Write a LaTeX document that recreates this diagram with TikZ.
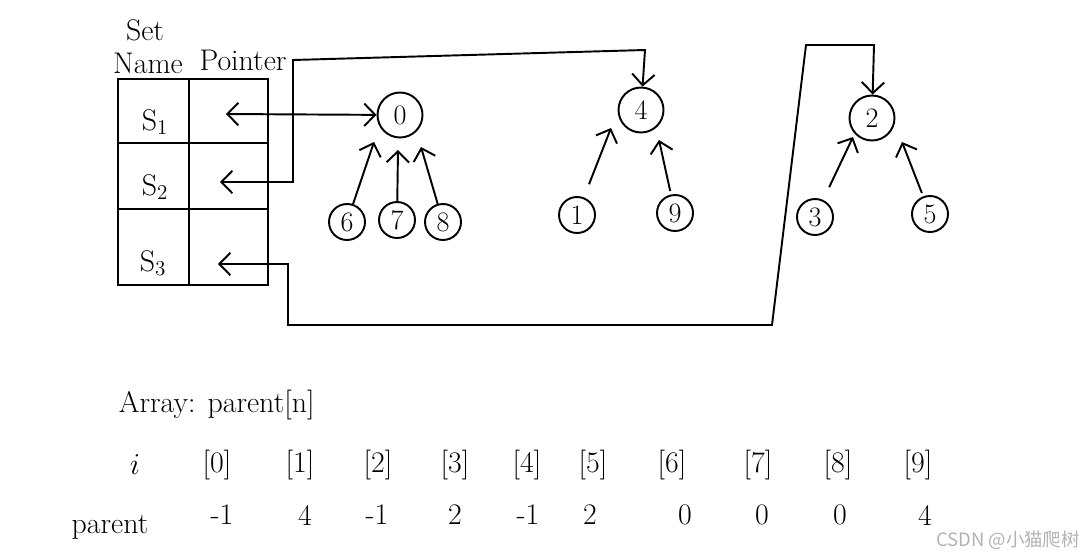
\documentclass[tikz,border=0pt]{standalone}
\usepackage{fontspec}
\newfontfamily\cjk{Noto Sans CJK SC}
\usetikzlibrary{arrows.meta}
\tikzset{
  vert/.style={draw,circle,line width=1.1pt,minimum size=0.72cm,inner sep=0pt,font=\fontsize{16}{16}\selectfont},
  root/.style={vert,minimum size=0.9cm},
  ptr/.style={line width=1.1pt,-{Straight Barb[length=2.2mm,width=4.5mm]}},
  link/.style={line width=1.1pt,{Straight Barb[length=2.2mm,width=4.5mm]}-{Straight Barb[length=2.2mm,width=4.5mm]}},
  hand/.style={font=\fontsize{17}{19}\selectfont}
}

\begin{document}
\begin{tikzpicture}[x=0.02cm,y=-0.02cm,line width=1.1pt]
		\useasboundingbox (0,0) rectangle (1091,558);
		% set table
		\draw (118,79) rectangle (268,285);
		\draw (189,79) -- (189,285);
		\draw (118,143) -- (268,143);
		\draw (118,209) -- (268,209);
		\node[hand] (set) at (145,30) {Set};
		\node[hand] (name) at (148,63) {Name};
		\node[hand] (pointer) at (243,60) {Pointer};
		\node[hand] (s1) at (155,122) {S$_1$};
		\node[hand] (s2) at (155,187) {S$_2$};
		\node[hand] (s3) at (153,263) {S$_3$};
		\coordinate (p1) at (226,114);
		\coordinate (p2) at (220,182);
		\coordinate (p3) at (218,264);
		
		% trees
		\node[root] (v0) at (400,115) {0};
		\node[root] (v4) at (641,110) {4};
		\node[root] (v2) at (872,118) {2};
		\foreach \n/\x/\y in {6/347/222, 7/397/220, 8/443/222, 1/577/215, 9/675/213, 3/815/217, 5/930/214}
			\node[vert] (v\n) at (\x,\y) {\n};
		% arrow tips under the roots
		\foreach \c/\x/\y in {6/374/142, 7/398/150, 8/421/147, 1/611/128, 9/659/140, 3/853/137, 5/902/142}
			\coordinate (t\c) at (\x,\y);
		\foreach \c/\s in {6/0pt, 7/0pt, 8/0pt, 1/8pt, 9/2pt, 3/8pt, 5/2pt}
			\draw[ptr,shorten <=\s] (v\c) -- (t\c);
		
		% pointers
		\draw[link] (p1) -- (v0);
		\draw[link] (p2) -- (293,182) -- (293,60) -- (645,50) -- (v4);
		\draw[link] (p3) -- (288,264) -- (288,325) -- (772,325) -- (806,45) -- (874,45) -- (v2);
		
		% array
		\node[hand,anchor=west] (array) at (112,405) {Array: parent[n]};
		\node[hand] (ilab) at (135,465) {$i$};
		\node[hand] (plab) at (110,527) {parent};
		\foreach \i/\x/\v/\vx in {0/217/-1/222, 1/300/4/305, 2/378/-1/377, 3/455/2/455, 4/527/-1/528,
			5/593/2/590, 6/672/0/685, 7/758/0/762, 8/838/0/840, 9/918/4/925}{
			\node[hand] (i\i) at (\x,465) {[\i]};
			\node[hand] (par\i) at (\vx,515) {\v};
		}
		
		\node[text=gray!60,font=\cjk\fontsize{10.5}{11}\selectfont] (mark) at (1008,540) {CSDN @小猫爬树};
\end{tikzpicture}
\end{document}
